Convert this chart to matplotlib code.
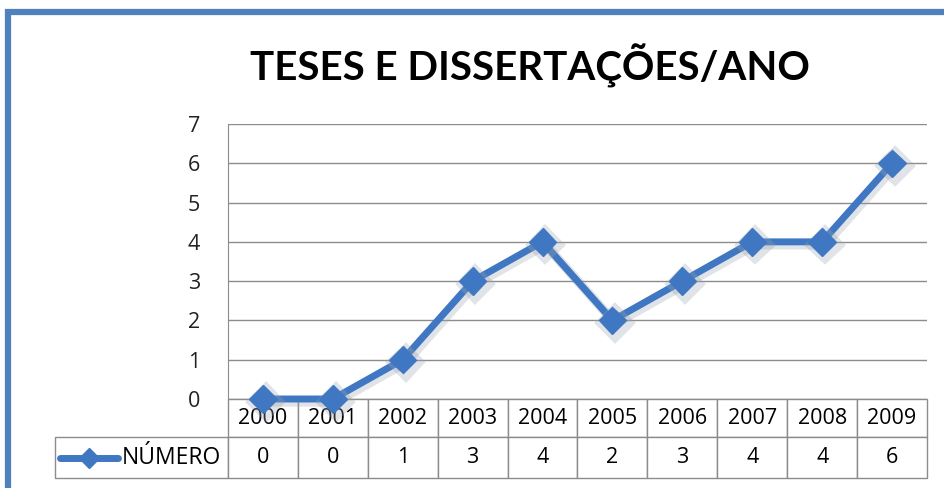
import matplotlib.pyplot as plt
import matplotlib.patheffects as pe
from matplotlib.table import Table
from matplotlib.lines import Line2D

years = ['2000', '2001', '2002', '2003', '2004', '2005', '2006', '2007', '2008', '2009']
numero = [0, 0, 1, 3, 4, 2, 3, 4, 4, 6]
series_name = 'NÚMERO'
title = 'TESES E DISSERTAÇÕES/ANO'
yticks = [0, 1, 2, 3, 4, 5, 6, 7]

blue = '#3F77C2'
grid = '#8C8C8C'
plt.rcParams['font.family'] = ['Open Sans', 'DejaVu Sans']

fig = plt.figure(figsize=(9.45, 4.88), dpi=100)

# outer frame (only top and left edges are visible in the crop)
fig.add_artist(plt.Rectangle((8.5 / 945, -0.1), 1.2, 1.1 - 12.5 / 488,
                             transform=fig.transFigure, fill=False,
                             edgecolor='#4F81BD', linewidth=4.5))

fig.text(530 / 945, 1 - 66 / 488, title, ha='center', va='center',
         fontsize=29, fontweight='bold', family='Lato')

ax = fig.add_axes([228 / 945, 89 / 488, 699 / 945, 275 / 488])
x = list(range(len(years)))
line, = ax.plot(x, numero, color=blue, lw=5, marker='D', markersize=14,
                solid_joinstyle='miter', zorder=3, clip_on=False)
line.set_path_effects([pe.SimpleLineShadow(offset=(2, -2), shadow_color='#9aa4b0',
                                           alpha=0.3, linewidth=7), pe.Normal()])

ax.set_xlim(-0.5, len(years) - 0.5)
ax.set_ylim(0, 7)
ax.set_yticks(yticks)
ax.set_xticks([])
ax.tick_params(axis='y', length=0, pad=20, labelsize=15.5, colors='#222222')
ax.yaxis.grid(True, color=grid, lw=1)
ax.set_axisbelow(True)
for s in ['top', 'right', 'bottom']:
    ax.spines[s].set_visible(False)
ax.spines['left'].set_color(grid)

# data table below the plot
h_year, h_val = 38 / 275, 41 / 275
tbl = Table(ax, bbox=[0, -(h_year + h_val), 1, h_year + h_val])
for j, (yr, v) in enumerate(zip(years, numero)):
    c = tbl.add_cell(0, j, 0.1, h_year, text=yr, loc='center', edgecolor=grid)
    c.get_text().set_fontsize(15.5)
    c = tbl.add_cell(1, j, 0.1, h_val, text=str(v), loc='center', edgecolor=grid)
    c.get_text().set_fontsize(15.5)
lab = tbl.add_cell(1, -1, 173 / 699, h_val, text=series_name, loc='right', edgecolor=grid)
lab.PAD = 0.04
lab.get_text().set_fontsize(16.5)
tbl.auto_set_font_size(False)
ax.add_table(tbl)

# legend key inside the row label cell
ky = -(h_year + h_val / 2)
ax.add_line(Line2D([-168 / 699, -110 / 699], [ky, ky], transform=ax.transAxes,
                   color=blue, lw=5, clip_on=False, solid_capstyle='round'))
ax.add_line(Line2D([-139 / 699], [ky], transform=ax.transAxes, color=blue,
                   marker='D', markersize=10, clip_on=False))

fig.savefig('out.png', dpi=100)
